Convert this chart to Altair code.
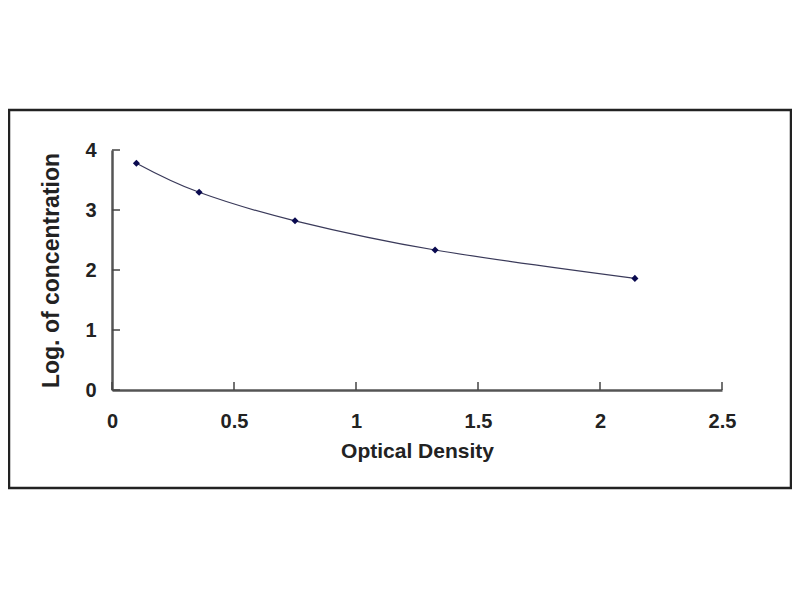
import altair as alt
import pandas as pd

# data
od = [0.10, 0.357, 0.75, 1.324, 2.143]
log_conc = [3.78, 3.295, 2.82, 2.333, 1.86]

x_ticks = [0, 0.5, 1, 1.5, 2, 2.5]
y_ticks = [0, 1, 2, 3, 4]

df = pd.DataFrame({"od": od, "logc": log_conc})
xt = pd.DataFrame({"t": x_ticks})
yt = pd.DataFrame({"t": y_ticks})
frame_df = pd.DataFrame({"a": [0]})

FONT = "Liberation Sans"
W, H = 610, 240

xscale = alt.Scale(domain=[0, 2.5], nice=False, zero=False)
yscale = alt.Scale(domain=[0, 4], nice=False, zero=False)

xaxis = alt.Axis(values=x_ticks, format="~g", ticks=False, grid=False,
                 labelFlush=False,
                 domainColor="#555555", domainWidth=2.5,
                 labelFont=FONT, labelFontSize=20, labelFontWeight="bold",
                 labelColor="#222222", labelPadding=21,
                 title="Optical Density", titleFont=FONT, titleFontSize=21,
                 titleFontWeight="bold", titleColor="#222222", titlePadding=9)
yaxis = alt.Axis(values=y_ticks, format="~g", ticks=False, grid=False,
                 labelFlush=False,
                 domainColor="#555555", domainWidth=2.5,
                 labelFont=FONT, labelFontSize=20, labelFontWeight="bold",
                 labelColor="#222222", labelPadding=16,
                 title="Log. of concentration", titleFont=FONT, titleFontSize=23,
                 titleFontWeight="bold", titleColor="#222222", titlePadding=21)

frame = alt.Chart(frame_df).mark_rect(
    fill=None, stroke="#222222", strokeWidth=2.5
).encode(
    x=alt.value(-103), x2=alt.value(679), y=alt.value(-40), y2=alt.value(338)
)

curve = alt.Chart(df).mark_line(
    interpolate="cardinal", color="#3a3a5a", strokeWidth=1.2
).encode(
    x=alt.X("od:Q", scale=xscale, axis=xaxis),
    y=alt.Y("logc:Q", scale=yscale, axis=yaxis),
)

pts = alt.Chart(df).mark_point(
    shape="diamond", filled=True, color="#0a0a50", size=50, opacity=1
).encode(
    x=alt.X("od:Q", scale=xscale),
    y=alt.Y("logc:Q", scale=yscale),
)

xtick_marks = alt.Chart(xt).mark_rule(color="#444444", strokeWidth=1.5).encode(
    x=alt.X("t:Q", scale=xscale), y=alt.value(H), y2=alt.value(H - 8)
)
ytick_marks = alt.Chart(yt).mark_rule(color="#444444", strokeWidth=1.5).encode(
    y=alt.Y("t:Q", scale=yscale), x=alt.value(0), x2=alt.value(8)
)

chart = alt.layer(frame, curve, xtick_marks, ytick_marks, pts).properties(
    width=W, height=H,
    background="white",
    autosize=alt.AutoSizeParams(type="none"),
    padding={"left": 104, "top": 142, "right": 70, "bottom": 100},
).configure_view(strokeWidth=0, stroke="transparent")

chart.save("out.html", embed_options={"renderer": "svg", "actions": False})
